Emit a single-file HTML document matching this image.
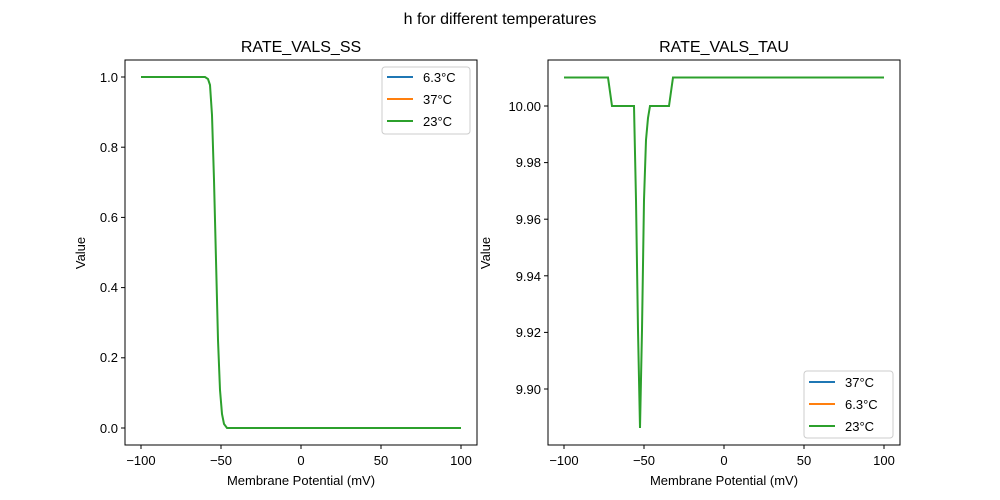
<!DOCTYPE html>
<html><head><style>body{margin:0;background:#fff}svg{display:block;font-family:"Liberation Sans","DejaVu Sans",sans-serif}</style></head><body>
<svg width="1000" height="500" xmlns="http://www.w3.org/2000/svg">
<text x="500" y="24" font-size="16" text-anchor="middle">h for different temperatures</text>
<!-- Left -->
<text x="301" y="52" font-size="16" text-anchor="middle">RATE_VALS_SS</text>
<g font-size="13" fill="#000">
<g stroke="#000" stroke-width="1">
<line x1="141" y1="445" x2="141" y2="449"/><line x1="221" y1="445" x2="221" y2="449"/><line x1="301" y1="445" x2="301" y2="449"/><line x1="381" y1="445" x2="381" y2="449"/><line x1="461" y1="445" x2="461" y2="449"/>
<line x1="121" y1="77" x2="125" y2="77"/><line x1="121" y1="147.2" x2="125" y2="147.2"/><line x1="121" y1="217.4" x2="125" y2="217.4"/><line x1="121" y1="287.6" x2="125" y2="287.6"/><line x1="121" y1="357.8" x2="125" y2="357.8"/><line x1="121" y1="428" x2="125" y2="428"/>
</g>
<g text-anchor="middle"><text x="141" y="465">−100</text><text x="221" y="465">−50</text><text x="301" y="465">0</text><text x="381" y="465">50</text><text x="461" y="465">100</text></g>
<g text-anchor="end"><text x="118" y="82">1.0</text><text x="118" y="152">0.8</text><text x="118" y="222">0.6</text><text x="118" y="292">0.4</text><text x="118" y="362">0.2</text><text x="118" y="433">0.0</text></g>
<text x="301" y="485" text-anchor="middle">Membrane Potential (mV)</text>
<text transform="translate(85,253) rotate(-90)" text-anchor="middle">Value</text>
</g>
<polyline fill="none" stroke="#2ca02c" stroke-width="2" points="141,77 205,77 208,79 210,85 212,115 214,180 216,260 218,340 220,390 222,414 224,424 227,428 461,428"/>
<rect x="125" y="60" width="352" height="385" fill="none" stroke="#000" stroke-width="1"/>
<rect x="382" y="67" width="88" height="67" rx="3" fill="#fff" stroke="#ccc"/>
<g font-size="13"><line x1="387" y1="77" x2="413" y2="77" stroke="#1f77b4" stroke-width="2"/><text x="423" y="82">6.3°C</text>
<line x1="387" y1="99" x2="413" y2="99" stroke="#ff7f0e" stroke-width="2"/><text x="423" y="104">37°C</text>
<line x1="387" y1="121" x2="413" y2="121" stroke="#2ca02c" stroke-width="2"/><text x="423" y="126">23°C</text></g>
<!-- Right -->
<text x="724" y="52" font-size="16" text-anchor="middle">RATE_VALS_TAU</text>
<g font-size="13" fill="#000">
<g stroke="#000" stroke-width="1">
<line x1="564" y1="445" x2="564" y2="449"/><line x1="644" y1="445" x2="644" y2="449"/><line x1="724" y1="445" x2="724" y2="449"/><line x1="804" y1="445" x2="804" y2="449"/><line x1="884" y1="445" x2="884" y2="449"/>
<line x1="544" y1="106" x2="548" y2="106"/><line x1="544" y1="162.6" x2="548" y2="162.6"/><line x1="544" y1="219.2" x2="548" y2="219.2"/><line x1="544" y1="275.8" x2="548" y2="275.8"/><line x1="544" y1="332.4" x2="548" y2="332.4"/><line x1="544" y1="389" x2="548" y2="389"/>
</g>
<g text-anchor="middle"><text x="564" y="465">−100</text><text x="644" y="465">−50</text><text x="724" y="465">0</text><text x="804" y="465">50</text><text x="884" y="465">100</text></g>
<g text-anchor="end"><text x="541" y="111">10.00</text><text x="541" y="167">9.98</text><text x="541" y="224">9.96</text><text x="541" y="281">9.94</text><text x="541" y="337">9.92</text><text x="541" y="394">9.90</text></g>
<text x="724" y="485" text-anchor="middle">Membrane Potential (mV)</text>
<text transform="translate(490,253) rotate(-90)" text-anchor="middle">Value</text>
</g>
<polyline fill="none" stroke="#2ca02c" stroke-width="2" points="564,77.5 608,77.5 612,106 634,106 636,200 638,330 640,428 642,330 644,200 646,140 648,118 650,106 669,106 673,77.5 884,77.5"/>
<rect x="548" y="60" width="352" height="385" fill="none" stroke="#000" stroke-width="1"/>
<rect x="804" y="371" width="89" height="67" rx="3" fill="#fff" stroke="#ccc"/>
<g font-size="13"><line x1="809" y1="382" x2="835" y2="382" stroke="#1f77b4" stroke-width="2"/><text x="845" y="387">37°C</text>
<line x1="809" y1="404" x2="835" y2="404" stroke="#ff7f0e" stroke-width="2"/><text x="845" y="409">6.3°C</text>
<line x1="809" y1="426" x2="835" y2="426" stroke="#2ca02c" stroke-width="2"/><text x="845" y="431">23°C</text></g>
</svg>
</body></html>
